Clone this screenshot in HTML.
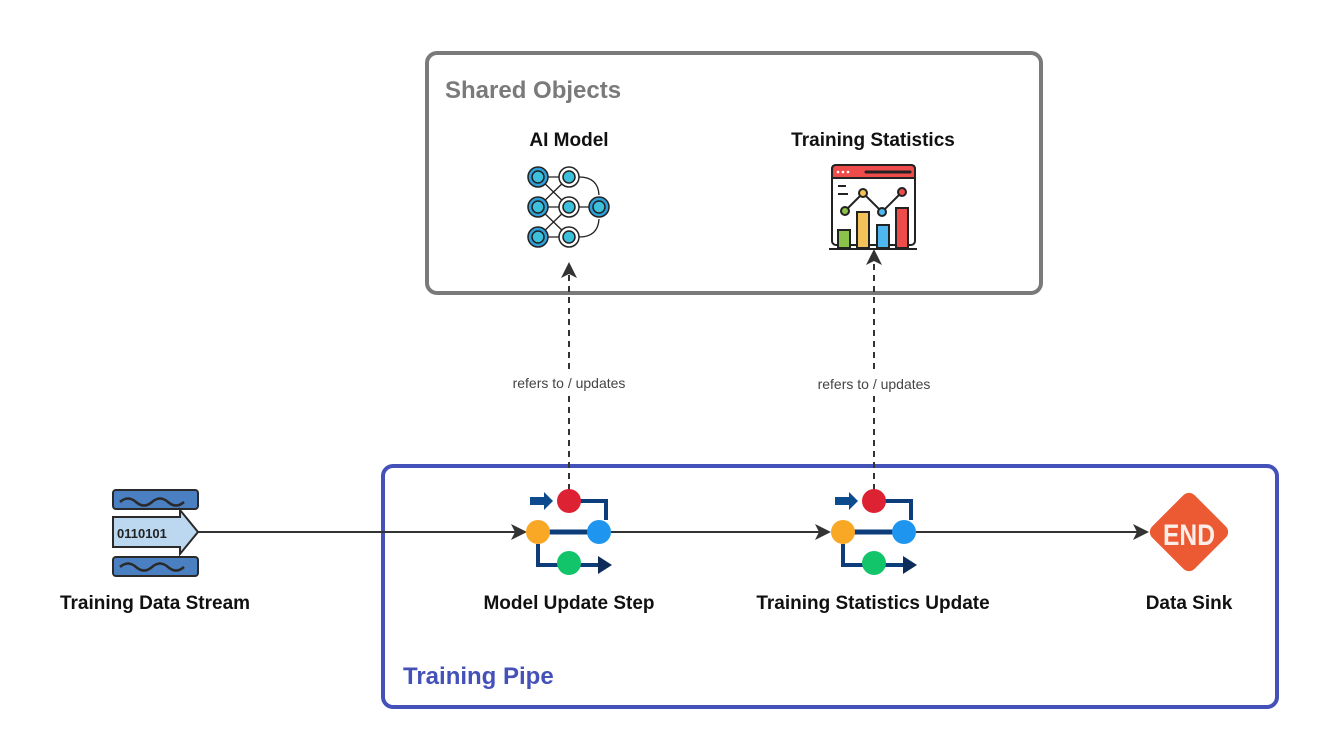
<!DOCTYPE html>
<html><head><meta charset="utf-8"><style>
html,body{margin:0;padding:0;background:#fff;}
svg{display:block;}
text{font-family:"Liberation Sans",sans-serif;}
</style></head><body>
<svg width="1331" height="751" viewBox="0 0 1331 751" xmlns="http://www.w3.org/2000/svg">
<defs>
<marker id="ar2" markerWidth="16" markerHeight="16" refX="14" refY="8" orient="auto" markerUnits="userSpaceOnUse" viewBox="0 0 16 16">
<path d="M0,0 L16,8 L0,16 L4,8 Z" fill="#333"/></marker>
</defs>
<rect x="427" y="53" width="614" height="240" rx="10" fill="none" stroke="#7a7a7a" stroke-width="4"/>
<rect x="383" y="466" width="894" height="241" rx="10" fill="none" stroke="#4451b8" stroke-width="4"/>
<text x="445" y="98" font-size="24" font-weight="bold" fill="#7a7a7a">Shared Objects</text>
<text x="403" y="684" font-size="24" font-weight="bold" fill="#4451b8">Training Pipe</text>
<g font-size="19" font-weight="bold" fill="#111" text-anchor="middle">
<text x="569" y="146">AI Model</text>
<text x="873" y="146">Training Statistics</text>
<text x="155" y="609">Training Data Stream</text>
<text x="569" y="609">Model Update Step</text>
<text x="873" y="609">Training Statistics Update</text>
<text x="1189" y="609">Data Sink</text>
</g>
<!-- connectors -->
<line x1="198" y1="532" x2="525" y2="532" stroke="#333" stroke-width="2" marker-end="url(#ar2)"/>
<line x1="611" y1="532" x2="829" y2="532" stroke="#333" stroke-width="2" marker-end="url(#ar2)"/>
<line x1="916" y1="532" x2="1147" y2="532" stroke="#333" stroke-width="2" marker-end="url(#ar2)"/>
<line x1="569" y1="490" x2="569" y2="264" stroke="#333" stroke-width="2" stroke-dasharray="6,5" marker-end="url(#ar2)"/>
<line x1="874" y1="490" x2="874" y2="251" stroke="#333" stroke-width="2" stroke-dasharray="6,5" marker-end="url(#ar2)"/>
<rect x="500" y="370" width="138" height="22" fill="#fff"/>
<rect x="805" y="371" width="138" height="22" fill="#fff"/>
<g font-size="14" fill="#444" text-anchor="middle">
<text x="569" y="388">refers to / updates</text>
<text x="874" y="389">refers to / updates</text>
</g>
<!-- data stream icon -->
<g stroke="#2a2a2a" stroke-width="2">
<rect x="113" y="490" width="85" height="19" rx="3" fill="#4a7fc1"/>
<rect x="113" y="557" width="85" height="19" rx="3" fill="#4a7fc1"/>
<path d="M113,517 H180 V510 L198,532 L180,554 V547 H113 Z" fill="#bcd7f0"/>
</g>
<text x="117" y="538" font-size="13" font-weight="bold" font-family="Liberation Mono" fill="#222">0110101</text>
<g fill="none" stroke="#2a2a2a" stroke-width="2.5">
<path d="M120,502 q8,-7 16,0 q8,7 16,0 q8,-7 16,0 q8,7 16,0"/>
<path d="M120,567 q8,-7 16,0 q8,7 16,0 q8,-7 16,0 q8,7 16,0"/>
</g>
<!-- pipe icons -->
<g id="p1">
<path d="M580,501 H606 V520 M538,544 V565 H600" fill="none" stroke="#0d3c7a" stroke-width="4"/>
<line x1="548" y1="532" x2="590" y2="532" stroke="#0d3c7a" stroke-width="5"/>
<path d="M530,497 H544 V492 L553,501 L544,510 V505 H530Z" fill="#0d4b8f"/>
<path d="M598,556 L612,565 L598,574Z" fill="#0d2c5a"/>
<circle cx="569" cy="501" r="12" fill="#dd2233"/>
<circle cx="538" cy="532" r="12" fill="#f9a825"/>
<circle cx="599" cy="532" r="12" fill="#1e96f0"/>
<circle cx="569" cy="563" r="12" fill="#12c46a"/>
</g>
<use href="#p1" x="305" y="0"/>
<!-- END sign -->
<rect x="1159" y="502" width="60" height="60" rx="8" fill="#ec5a33" transform="rotate(45 1189 532)"/>
<text x="1189" y="545" font-size="30" font-weight="bold" fill="#fbeee8" text-anchor="middle" textLength="52" lengthAdjust="spacingAndGlyphs">END</text>
<!-- AI model icon -->
<g stroke="#222" stroke-width="1.3" fill="none">
<path d="M538,177 L569,207 L538,237 M538,207 L569,177 M538,207 L569,237 M538,177 H569 M538,207 H599 M538,237 H569 M579,177 Q598,177 599,195 M579,237 Q598,237 599,219"/>
</g>
<g stroke="#222" stroke-width="1.5">
<circle cx="538" cy="177" r="10" fill="#2e9fd8"/><circle cx="538" cy="177" r="6" fill="#3cc0db"/>
<circle cx="538" cy="207" r="10" fill="#2e9fd8"/><circle cx="538" cy="207" r="6" fill="#3cc0db"/>
<circle cx="538" cy="237" r="10" fill="#2e9fd8"/><circle cx="538" cy="237" r="6" fill="#3cc0db"/>
<circle cx="569" cy="177" r="10" fill="#fff"/><circle cx="569" cy="177" r="6" fill="#3cc0db"/>
<circle cx="569" cy="207" r="10" fill="#fff"/><circle cx="569" cy="207" r="6" fill="#3cc0db"/>
<circle cx="569" cy="237" r="10" fill="#fff"/><circle cx="569" cy="237" r="6" fill="#3cc0db"/>
<circle cx="599" cy="207" r="10" fill="#2e9fd8"/><circle cx="599" cy="207" r="6" fill="#3cc0db"/>
</g>
<!-- stats icon -->
<g stroke="#222" stroke-width="2">
<rect x="832" y="165" width="83" height="80" rx="4" fill="#fff"/>
<path d="M832,178 V169 q0,-4 4,-4 H911 q4,0 4,4 V178 Z" fill="#ee4b4b"/>
<rect x="838" y="230" width="12" height="18" fill="#8bc34a"/>
<rect x="857" y="212" width="12" height="36" fill="#f4c25a"/>
<rect x="877" y="225" width="12" height="23" fill="#4fb7ef"/>
<rect x="896" y="208" width="12" height="40" fill="#ee4b4b"/>
<line x1="829" y1="249" x2="917" y2="249"/>
<polyline points="845,211 863,193 882,212 902,192" fill="none"/>
<circle cx="845" cy="211" r="4" fill="#8bc34a"/>
<circle cx="863" cy="193" r="4" fill="#f4c25a"/>
<circle cx="882" cy="212" r="4" fill="#4fb7ef"/>
<circle cx="902" cy="192" r="4" fill="#ee4b4b"/>
<line x1="838" y1="186" x2="846" y2="186"/><line x1="838" y1="194" x2="848" y2="194"/>
</g>
<g fill="#fff"><circle cx="838" cy="172" r="1.3"/><circle cx="843" cy="172" r="1.3"/><circle cx="848" cy="172" r="1.3"/></g>
<line x1="866" y1="172" x2="910" y2="172" stroke="#222" stroke-width="3" stroke-linecap="round"/>
</svg>
</body></html>
